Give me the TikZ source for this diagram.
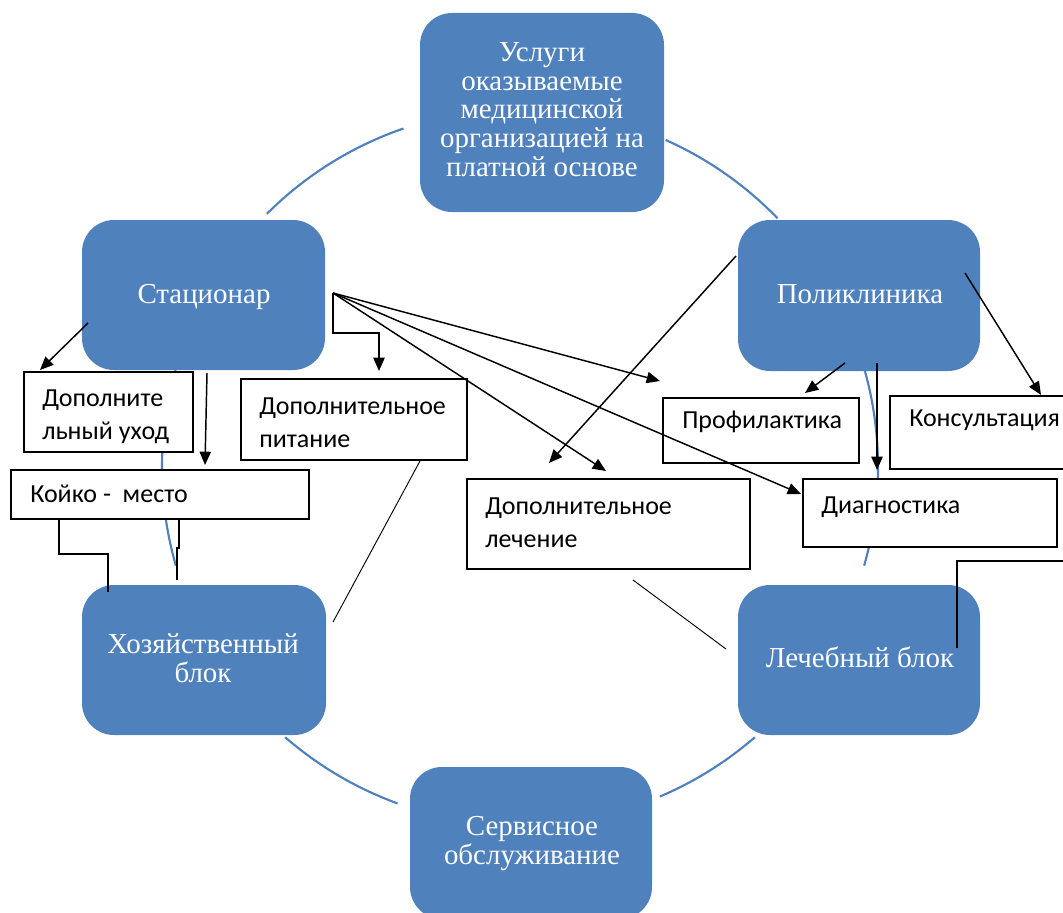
\documentclass[tikz,border=0pt]{standalone}
\usepackage{fontspec}
\setmainfont{Liberation Serif}
\newfontfamily\calfont{Carlito}
\usetikzlibrary{arrows.meta,fit}
\definecolor{sblue}{RGB}{79,129,189}
\begin{document}
\begin{tikzpicture}[x=0.75pt,y=-0.75pt,
 bbox/.style={draw=none, fill=sblue, rounded corners=24pt, inner sep=0pt},
 btext/.style={text=white, align=center, anchor=base, inner sep=0pt,
   font=\fontsize{21.7}{21.4}\selectfont},
 wbox/.style={draw=black, line width=1pt, fill=white, inner sep=0pt},
 wtext/.style={font=\calfont\fontsize{19.5}{24.75}\selectfont, align=left, anchor=base west, inner sep=0pt},
 cyc/.style={draw=sblue, line width=1.6pt},
 arr/.style={draw=black, line width=1.1pt, -{Triangle[length=10pt,width=8.5pt]}},
 ln/.style={draw=black, line width=1.1pt},
 thin line/.style={draw=black, line width=0.7pt},
]
\useasboundingbox (0,0) rectangle (1063,913);
\clip (0,0) rectangle (1063,913);
% cycle arcs
\draw[cyc] ([shift={(-109:358)}]520,467) arc[start angle=-109,end angle=-135,radius=358];
\draw[cyc] ([shift={(-44:358)}]520,467) arc[start angle=-44,end angle=-66,radius=358];
\draw[cyc] ([shift={(-163:358)}]520,467) arc[start angle=-163,end angle=-196,radius=358];
\draw[cyc] ([shift={(16:358)}]520,467) arc[start angle=16,end angle=-16,radius=358];
\draw[cyc] ([shift={(-229:358)}]520,467) arc[start angle=-229,end angle=-250,radius=358];
\draw[cyc] ([shift={(67:358)}]520,467) arc[start angle=67,end angle=49,radius=358];
% blue blocks
\node[bbox, fit={(420,13) (664,212)}] (top) {};
\node[bbox, fit={(82,220) (325,370)}] (stac) {};
\node[bbox, fit={(738,220) (980,371)}] (poli) {};
\node[bbox, fit={(82,585) (326,735)}] (hoz) {};
\node[bbox, fit={(738,585) (980,735)}] (lech) {};
\node[bbox, fit={(410,767) (652,919)}] (serv) {};
\node[btext] (ttop) at (542,176) {Услуги\\оказываемые\\медицинской\\организацией на\\платной основе};
\node[btext] (tstac) at (204,303) {Стационар};
\node[btext] (tpoli) at (860,303) {Поликлиника};
\node[btext] (thoz) at (203,682) {Хозяйственный\\блок};
\node[btext] (tlech) at (860,667) {Лечебный блок};
\node[btext] (tserv) at (532,864) {Сервисное\\обслуживание};
% white boxes
\node[wbox, fit={(24,372) (193,452)}] (uhod) {};
\node[wbox, fit={(11,470) (309,519)}] (koiko) {};
\node[wbox, fit={(241,379) (467,460)}] (pit) {};
\node[wbox, fit={(663,398) (859,463)}] (prof) {};
\node[wbox, fit={(890,396) (1075,469)}] (kons) {};
\node[wbox, fit={(467,479) (750,569)}] (doplech) {};
\node[wbox, fit={(803,479) (1057,547)}] (diag) {};
% texts of white boxes
\node[wtext] (tuhod) at (42,439) {Дополните\\льный уход};
\node[wtext] (tkoiko) at (30,502) {Койко -\ \ место};
\node[wtext] (tpit) at (259,447) {Дополнительное\\питание};
\node[wtext] (tprof) at (682,428) {Профилактика};
\node[wtext] (tkons) at (909,426) {Консультация};
\node[wtext] (tdoplech) at (485,547) {Дополнительное\\лечение};
\node[wtext] (tdiag) at (821,513) {Диагностика};
% connector points
\coordinate (hub) at (333,293);
\coordinate (s1) at (88,323);   \coordinate (e1) at (40,370);
\coordinate (s2) at (207,373);  \coordinate (e2) at (205,465);
\coordinate (e3) at (379,371);
\coordinate (e4) at (660,381);
\coordinate (e5) at (606,471);
\coordinate (e6) at (801,494);
\coordinate (s7) at (736,256);  \coordinate (e7) at (549,463);
\coordinate (s8) at (845,363);  \coordinate (e8) at (805,393);
\coordinate (s9) at (877,363);  \coordinate (e9) at (877,470);
\coordinate (s10) at (965,273); \coordinate (e10) at (1041,395);
\coordinate (s11) at (957,648);
\coordinate (s12) at (108,592); \coordinate (e12) at (59,519);
\coordinate (s13) at (177,580); \coordinate (e13) at (179,519);
\coordinate (s14) at (333,622); \coordinate (e14) at (420,461);
\coordinate (s15) at (633,580); \coordinate (e15) at (726,649);
% connectors
\draw[arr] (s1) -- (e1);
\draw[arr] (s2) -- (e2);
\draw[arr] (hub) -- (333,333) -- (379,333) -- (e3);
\draw[arr] (hub) -- (e4);
\draw[arr] (hub) -- (e5);
\draw[arr] (hub) -- (e6);
\draw[arr] (s7) -- (e7);
\draw[arr] (s8) -- (e8);
\draw[arr] (s9) -- (e9);
\draw[arr] (s10) -- (e10);
\draw[ln] (s11) -- (957,561) -- (1075,561);
\draw[ln] (s12) -- (108,554) -- (59,554) -- (e12);
\draw[ln] (s13) -- (177,548) -- (179,548) -- (e13);
\draw[thin line] (s14) -- (e14);
\draw[thin line] (s15) -- (e15);
\end{tikzpicture}
\end{document}
